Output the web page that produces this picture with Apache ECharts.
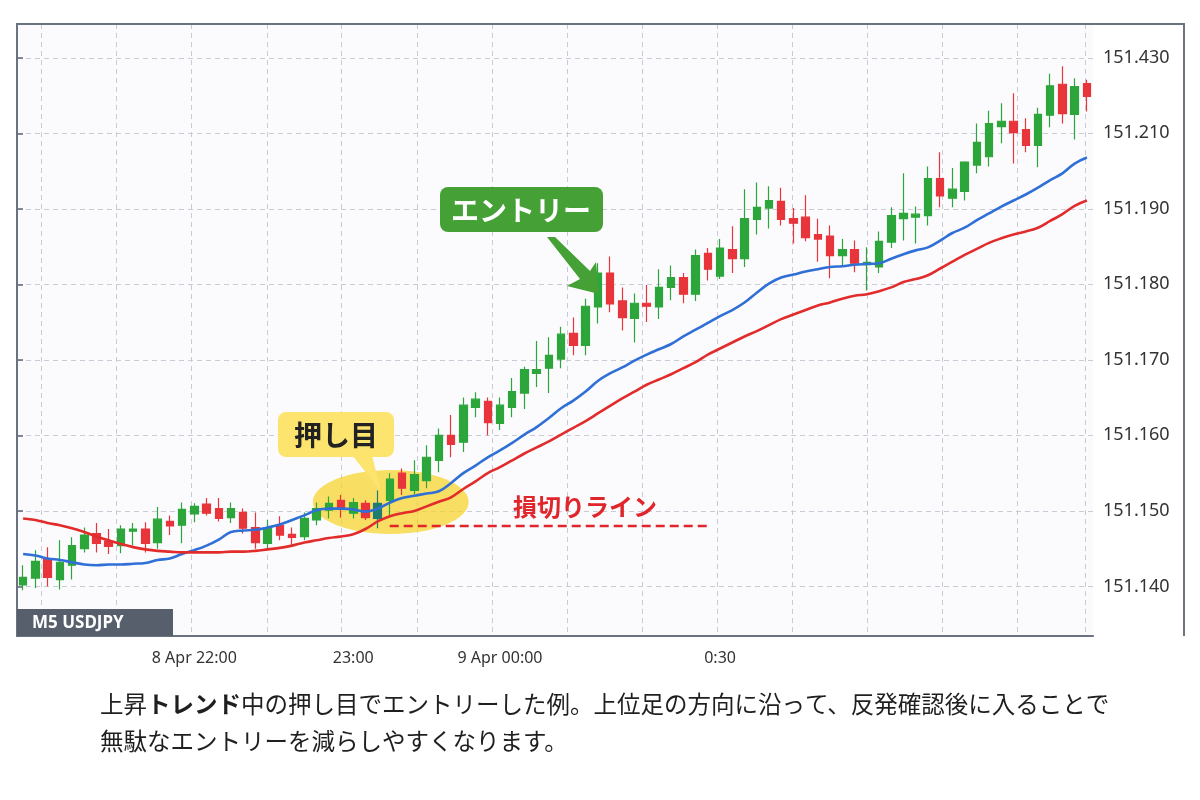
<!DOCTYPE html>
<html>
<head>
<meta charset="utf-8">
<script src="https://cdn.jsdelivr.net/npm/echarts@6/dist/echarts.min.js"></script>
<style>
html,body{margin:0;padding:0;background:#ffffff;}
#chart{width:1200px;height:800px;}
</style>
</head>
<body>
<div id="chart"></div>
<script>
// ---- data (M5 USDJPY candles) ----
const opens = [151.1402,151.1411,151.1436,151.1409,151.1428,151.1450,151.1470,151.1460,151.1454,151.1473,
151.1476,151.1458,151.1486,151.1481,151.1496,151.1509,151.1503,151.1491,151.1498,151.1478,
151.1457,151.1481,151.1469,151.1466,151.1488,151.1501,151.1514,151.1497,151.1510,151.1490,
151.1514,151.1550,151.1527,151.1540,151.1567,151.1600,151.1591,151.1637,151.1645,151.1616,
151.1637,151.1656,151.1682,151.1689,151.1701,151.1735,151.1719,151.1770,151.1815,151.1778,
151.1755,151.1775,151.1770,151.1796,151.1809,151.1787,151.1841,151.1811,151.1846,151.1834,
151.1886,151.1901,151.1910,151.1887,151.1889,151.1866,151.1864,151.1838,151.1846,151.1826,
151.1823,151.1856,151.1887,151.1889,151.1891,151.1940,151.1914,151.1923,151.1958,151.1969,
151.2009,151.2016,151.2005,151.1984,151.2024,151.2065,151.2025,151.2066];
const closes = [151.1412,151.1433,151.1412,151.1432,151.1454,151.1468,151.1457,151.1453,151.1476,151.1476,
151.1457,151.1489,151.1480,151.1502,151.1506,151.1497,151.1490,151.1503,151.1477,151.1458,
151.1477,151.1468,151.1465,151.1490,151.1503,151.1510,151.1502,151.1511,151.1491,151.1510,
151.1542,151.1530,151.1548,151.1571,151.1600,151.1588,151.1640,151.1648,151.1617,151.1640,
151.1658,151.1687,151.1687,151.1706,151.1734,151.1719,151.1771,151.1815,151.1774,151.1756,
151.1775,151.1771,151.1796,151.1809,151.1787,151.1838,151.1820,151.1848,151.1834,151.1887,
151.1902,151.1911,151.1886,151.1881,151.1862,151.1860,151.1838,151.1846,151.1828,151.1829,
151.1857,151.1891,151.1894,151.1893,151.1940,151.1917,151.1926,151.1962,151.1988,151.2013,
151.2016,151.2001,151.1984,151.2025,151.2063,151.2026,151.2062,151.2049];
const lows = [151.1395,151.1398,151.1400,151.1396,151.1409,151.1445,151.1445,151.1443,151.1444,151.1454,
151.1445,151.1450,151.1468,151.1457,151.1485,151.1494,151.1486,151.1484,151.1470,151.1450,
151.1450,151.1461,151.1454,151.1461,151.1481,151.1490,151.1491,151.1490,151.1488,151.1477,
151.1494,151.1521,151.1522,151.1530,151.1551,151.1571,151.1578,151.1624,151.1600,151.1607,
151.1624,151.1635,151.1664,151.1656,151.1689,151.1706,151.1706,151.1748,151.1763,151.1739,
151.1723,151.1750,151.1754,151.1779,151.1775,151.1778,151.1805,151.1807,151.1815,151.1823,
151.1866,151.1874,151.1878,151.1854,151.1857,151.1830,151.1808,151.1823,151.1816,151.1792,
151.1815,151.1848,151.1858,151.1854,151.1878,151.1902,151.1902,151.1911,151.1947,151.1956,
151.1987,151.1960,151.1975,151.1955,151.2008,151.2013,151.1992,151.2029];
const highs = [151.1428,151.1448,151.1452,151.1461,151.1465,151.1478,151.1484,151.1476,151.1481,151.1484,
151.1485,151.1505,151.1494,151.1511,151.1510,151.1517,151.1517,151.1511,151.1503,151.1498,
151.1488,151.1493,151.1478,151.1498,151.1511,151.1519,151.1521,151.1517,151.1514,151.1527,
151.1550,151.1556,151.1567,151.1587,151.1609,151.1627,151.1650,151.1657,151.1650,151.1650,
151.1676,151.1691,151.1725,151.1730,151.1744,151.1756,151.1781,151.1828,151.1837,151.1796,
151.1788,151.1799,151.1820,151.1825,151.1815,151.1846,151.1848,151.1860,151.1877,151.1926,
151.1935,151.1930,151.1928,151.1901,151.1918,151.1887,151.1878,151.1860,151.1858,151.1849,
151.1870,151.1902,151.1947,151.1903,151.1956,151.1975,151.1954,151.1963,151.2013,151.2030,
151.2040,151.2053,151.2020,151.2034,151.2079,151.2089,151.2073,151.2071];
const maFast = [151.1443,151.1441,151.1437,151.1435,151.1432,151.1429,151.1428,151.1429,151.1429,151.1430,
151.1431,151.1435,151.1437,151.1443,151.1448,151.1454,151.1462,151.1472,151.1474,151.1475,
151.1478,151.1482,151.1488,151.1494,151.1501,151.1503,151.1503,151.1502,151.1499,151.1503,
151.1511,151.1517,151.1520,151.1523,151.1526,151.1537,151.1550,151.1560,151.1571,151.1580,
151.1590,151.1601,151.1611,151.1623,151.1636,151.1646,151.1658,151.1672,151.1682,151.1690,
151.1699,151.1707,151.1714,151.1721,151.1731,151.1740,151.1749,151.1758,151.1766,151.1776,
151.1789,151.1801,151.1809,151.1813,151.1817,151.1820,151.1823,151.1824,151.1826,151.1827,
151.1828,151.1834,151.1840,151.1845,151.1849,151.1858,151.1868,151.1875,151.1885,151.1894,
151.1903,151.1911,151.1919,151.1928,151.1938,151.1947,151.1960,151.1968];
const maSlow = [151.1490,151.1488,151.1484,151.1481,151.1477,151.1472,151.1466,151.1461,151.1456,151.1452,
151.1449,151.1447,151.1446,151.1445,151.1445,151.1445,151.1445,151.1446,151.1446,151.1447,
151.1449,151.1451,151.1454,151.1458,151.1461,151.1464,151.1466,151.1469,151.1476,151.1486,
151.1493,151.1497,151.1500,151.1506,151.1512,151.1518,151.1529,151.1539,151.1550,151.1558,
151.1567,151.1576,151.1584,151.1592,151.1601,151.1610,151.1619,151.1629,151.1639,151.1649,
151.1658,151.1667,151.1674,151.1681,151.1689,151.1697,151.1707,151.1715,151.1723,151.1731,
151.1738,151.1746,151.1754,151.1760,151.1766,151.1772,151.1776,151.1781,151.1785,151.1787,
151.1791,151.1796,151.1803,151.1807,151.1812,151.1821,151.1830,151.1839,151.1847,151.1855,
151.1861,151.1866,151.1870,151.1875,151.1884,151.1893,151.1904,151.1911];
const categories = opens.map((_, i) => String(i));
const xLabelIndex = [14, 27, 39, 57];
const xLabelText = ['8 Apr 22:00', '23:00', '9 Apr 00:00', '0:30'];
const yTickValues = [151.14, 151.15, 151.16, 151.17, 151.18, 151.19, 151.20, 151.21];
const yTickLabels = ['151.140', '151.150', '151.160', '151.170', '151.180', '151.190', '151.210', '151.430'];
const vGridValues = [24, 99, 174, 250, 324, 400, 475, 550, 625, 700, 775, 850, 925, 1000, 1068];
const pullbackIndex = 29;
const stopPrice = 151.1480;

// ---- chart ----
const UP = '#2ca63a', DOWN = '#e8343b';
const candleData = opens.map((o, i) => {
  const v = [o, closes[i], lows[i], highs[i]];
  if (i === pullbackIndex) {
    return { value: v, itemStyle: { color: '#1f7d70', borderColor: '#1f7d70', color0: '#1f7d70', borderColor0: '#1f7d70' } };
  }
  return v;
});

const chart = echarts.init(document.getElementById('chart'), null, { renderer: 'canvas' });
const gridLine = { show: true, lineStyle: { color: '#c9ccd6', width: 1, type: [5, 4] } };
const L = 17, T = 24, R = 1093, B = 636;

chart.setOption({
  animation: false,
  backgroundColor: '#ffffff',
  grid: { left: L, top: T, right: 1200 - R, bottom: 800 - B, show: true, backgroundColor: '#fbfbfd', borderWidth: 0 },
  xAxis: [
    {
      type: 'category', data: categories, boundaryGap: true,
      axisLine: { show: true, lineStyle: { color: '#5d6674', width: 2 } },
      axisTick: { show: false },
      splitLine: { show: false },
      axisLabel: {
        interval: (i) => xLabelIndex.indexOf(i) >= 0,
        formatter: (v, i) => { const k = xLabelIndex.indexOf(i); return k >= 0 ? xLabelText[k] : ''; },
        color: '#333333', fontSize: 16, fontFamily: 'Noto Sans', margin: 14
      }
    },
    {
      type: 'value', position: 'top', min: 0, max: R - L,
      axisLine: { show: false }, axisLabel: { show: false },
      axisTick: { show: false, customValues: vGridValues },
      splitLine: gridLine
    }
  ],
  yAxis: {
    type: 'value', position: 'right', min: 151.13343, max: 151.21448,
    axisLine: { show: true, lineStyle: { color: '#5d6674', width: 2 } },
    axisTick: { show: true, length: 6, customValues: yTickValues, lineStyle: { color: '#5d6674', width: 1.5 } },
    axisLabel: {
      customValues: yTickValues, margin: 10, color: '#333333', fontSize: 18, fontFamily: 'Noto Sans',
      formatter: (v) => { const k = yTickValues.findIndex(t => Math.abs(t - v) < 1e-6); return k >= 0 ? yTickLabels[k] : ''; }
    },
    splitLine: gridLine
  },
  series: [
    {
      type: 'candlestick', name: 'USDJPY', data: candleData, barWidth: 8, z: 3,
      itemStyle: { color: UP, color0: DOWN, borderColor: UP, borderColor0: DOWN, borderWidth: 1.2 }
    },
    { type: 'line', name: 'MA fast', data: maFast, smooth: 0.4, symbol: 'none', z: 4,
      lineStyle: { color: '#2f6fd6', width: 2.6 } },
    { type: 'line', name: 'MA slow', data: maSlow, smooth: 0.4, symbol: 'none', z: 4,
      lineStyle: { color: '#e22b2b', width: 2.6 } }
  ]
});

// ---- annotations ----
const p0 = chart.convertToPixel({ xAxisIndex: 0, yAxisIndex: 0 }, [pullbackIndex, stopPrice]);
const stopY = p0[1];
const pb = chart.convertToPixel({ xAxisIndex: 0, yAxisIndex: 0 }, [pullbackIndex, lows[pullbackIndex]]);
const GREEN = '#45a136';
const YEL = '#fce46e';
const CJK = '"Noto Sans CJK JP", "Noto Sans", sans-serif';

chart.setOption({
  graphic: [
    // highlight ellipse behind candles
    { type: 'ellipse', z: 1, shape: { cx: pb[0] + 13, cy: stopY - 24, rx: 78, ry: 32 },
      style: { fill: 'rgba(246,212,40,0.72)' }, silent: true },
    // frame
    { type: 'polyline', z: 20, shape: { points: [[R, B], [L, B], [L, T], [1184, T], [1184, B]] },
      style: { stroke: '#6b7280', lineWidth: 2, fill: null } },
    // stop-loss dashed line
    { type: 'line', z: 10, shape: { x1: pb[0] + 12, y1: stopY, x2: 710, y2: stopY },
      style: { stroke: '#e0262b', lineWidth: 2.5, lineDash: [9, 5] } },
    { type: 'text', z: 10, x: 585, y: stopY - 19,
      style: { text: '損切りライン', font: 'bold 24px ' + CJK, fill: '#e0262b', textAlign: 'center', textVerticalAlign: 'middle' } },
    // pullback callout
    { type: 'polygon', z: 10, shape: { points: [[352, 455], [372, 455], [pb[0] + 3, 491]] }, style: { fill: YEL } },
    { type: 'rect', z: 10, shape: { x: 278, y: 412, width: 116, height: 45, r: 8 }, style: { fill: YEL } },
    { type: 'text', z: 11, x: 336, y: 435,
      style: { text: '押し目', font: 'bold 28px ' + CJK, fill: '#222222', textAlign: 'center', textVerticalAlign: 'middle' } },
    // entry callout
    { type: 'rect', z: 10, shape: { x: 440, y: 187, width: 163, height: 45, r: 8 }, style: { fill: GREEN } },
    { type: 'text', z: 11, x: 521, y: 210,
      style: { text: 'エントリー', font: 'bold 28px ' + CJK, fill: '#ffffff', textAlign: 'center', textVerticalAlign: 'middle' } },
    { type: 'polygon', z: 10, shape: { points: [[547, 237], [555, 237], [590, 271], [596, 262], [599, 294], [567, 286], [580, 279]] },
      style: { fill: GREEN } },
    // symbol badge
    { type: 'rect', z: 21, shape: { x: L, y: 609, width: 156, height: 27 }, style: { fill: '#565f6b' } },
    { type: 'text', z: 22, x: 32, y: 623,
      style: { text: 'M5 USDJPY', font: 'bold 17px "Noto Sans", sans-serif', fill: '#ffffff', textAlign: 'left', textVerticalAlign: 'middle' } },
    // caption
    { type: 'text', z: 10, x: 100, y: 704,
      style: { text: '上昇{b|トレンド}中の押し目でエントリーした例。上位足の方向に沿って、反発確認後に入ることで',
        font: '23.5px ' + CJK, fill: '#1f1f1f', textAlign: 'left', textVerticalAlign: 'middle',
        rich: { b: { fontWeight: 'bold', fontSize: 23.5, fontFamily: CJK, fill: '#1f1f1f' } } } },
    { type: 'text', z: 10, x: 100, y: 741,
      style: { text: '無駄なエントリーを減らしやすくなります。', font: '23.5px ' + CJK, fill: '#1f1f1f', textAlign: 'left', textVerticalAlign: 'middle' } }
  ]
});
</script>
</body>
</html>
